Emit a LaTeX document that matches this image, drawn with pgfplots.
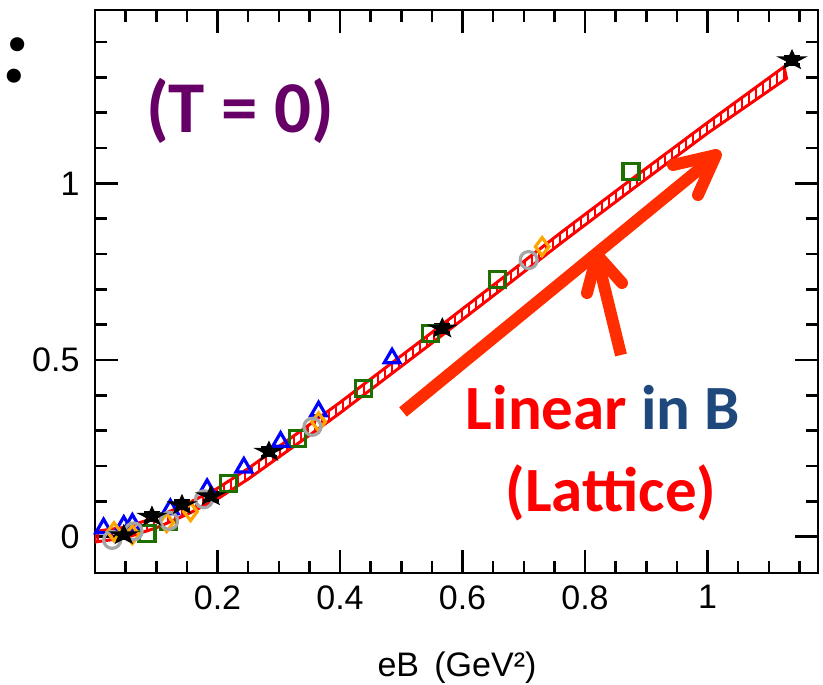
\documentclass[border=0pt]{standalone}
\usepackage{fontspec}
\setmainfont{Liberation Sans}
\newfontfamily\calibri{Carlito}
\usepackage{pgfplots}
\pgfplotsset{compat=1.18}
\usetikzlibrary{patterns.meta}
\definecolor{arrowred}{RGB}{255,45,0}
\definecolor{dgreen}{RGB}{30,110,0}
\definecolor{mblue}{RGB}{0,0,255}
\definecolor{morange}{RGB}{255,165,0}
\definecolor{mgray}{RGB}{165,165,165}
\definecolor{tpurple}{RGB}{102,0,102}
\definecolor{tblue}{RGB}{31,73,125}
\pgfdeclareplotmark{fstar}{%
  \pgfpathmoveto{\pgfpoint{0pt}{0.85\pgfplotmarksize}}%
  \pgfpathlineto{\pgfpoint{-0.27\pgfplotmarksize}{0.263\pgfplotmarksize}}%
  \pgfpathlineto{\pgfpoint{-1.141\pgfplotmarksize}{0.263\pgfplotmarksize}}%
  \pgfpathlineto{\pgfpoint{-0.436\pgfplotmarksize}{-0.1\pgfplotmarksize}}%
  \pgfpathlineto{\pgfpoint{-0.706\pgfplotmarksize}{-0.688\pgfplotmarksize}}%
  \pgfpathlineto{\pgfpoint{0pt}{-0.325\pgfplotmarksize}}%
  \pgfpathlineto{\pgfpoint{0.706\pgfplotmarksize}{-0.688\pgfplotmarksize}}%
  \pgfpathlineto{\pgfpoint{0.436\pgfplotmarksize}{-0.1\pgfplotmarksize}}%
  \pgfpathlineto{\pgfpoint{1.141\pgfplotmarksize}{0.263\pgfplotmarksize}}%
  \pgfpathlineto{\pgfpoint{0.27\pgfplotmarksize}{0.263\pgfplotmarksize}}%
  \pgfpathclose
  \pgfusepathqfillstroke}

\pgfplotstableread{
x      y
0.000  0.015
0.050  0.027
0.100  0.055
0.150  0.093
0.200  0.137
0.250  0.193
0.300  0.255
0.350  0.317
0.400  0.380
0.440  0.433
0.550  0.578
0.660  0.725
0.760  0.860
0.880  1.017
1.000  1.172
1.125  1.330
1.129  1.297
1.000  1.142
0.880  0.987
0.760  0.830
0.660  0.695
0.550  0.548
0.440  0.403
0.400  0.350
0.350  0.287
0.300  0.225
0.250  0.163
0.200  0.107
0.150  0.063
0.100  0.025
0.050  -0.003
0.000  -0.015
}\band

\pgfplotstableread{
x      y      e
0.047  0.005  0.012
0.093  0.057  0.012
0.142  0.090  0.012
0.189  0.115  0.012
0.284  0.241  0.012
0.567  0.590  0.012
1.138  1.349  0.012
}\stars

\pgfplotstableread{
x      y
0.085  0.010
0.120  0.042
0.218  0.151
0.330  0.279
0.438  0.420
0.548  0.576
0.657  0.727
0.875  1.033
}\squares

\pgfplotstableread{
x      y
0.014  0.024
0.047  0.031
0.061  0.037
0.123  0.078
0.183  0.135
0.243  0.196
0.303  0.269
0.365  0.355
0.485  0.505
}\triangles

\pgfplotstableread{
x      y
0.031  0.014
0.061  0.006
0.117  0.040
0.156  0.071
0.365  0.325
0.730  0.821
}\diamonds

\pgfplotstableread{
x      y
0.028  -0.009
0.063  0.015
0.121  0.045
0.178  0.106
0.355  0.311
0.708  0.783
}\circles

\begin{document}
\begin{tikzpicture}
\path[use as bounding box] (0pt,0pt) rectangle (823pt,685pt);
\begin{axis}[
  at={(95pt,112pt)}, anchor=south west,
  scale only axis, width=723pt, height=563pt,
  xmin=0, xmax=1.1804, ymin=-0.1027, ymax=1.4908,
  axis line style={line width=2.6pt},
  tick style={line width=2.5pt, black},
  tick align=inside,
  major tick length=23pt, minor tick length=12pt,
  xtick={0.2,0.4,0.6,0.8,1},
  xticklabels={0.2,0.4,0.6,0.8,1},
  minor xtick={0.05,0.1,0.15,0.25,0.3,0.35,0.45,0.5,0.55,0.65,0.7,0.75,0.85,0.9,0.95,1.05,1.1,1.15},
  ytick={0,0.5,1},
  yticklabels={0,0.5,1},
  minor ytick={0.1,0.2,0.3,0.4,0.6,0.7,0.8,0.9,1.1,1.2,1.3,1.4},
  every tick label/.append style={font=\fontsize{34}{40}\selectfont},
  xticklabel style={yshift=-9pt},
  yticklabel style={xshift=-12pt},
  clip=true,
]
\addplot[draw=red, line width=3pt,
  pattern={Lines[angle=90,distance=7pt,line width=2.5pt]}, pattern color=red]
  table[x=x,y=y] {\band} -- cycle;
\addplot[only marks, mark=square, mark size=8pt, dgreen, mark options={line width=3.2pt}] table[x=x,y=y] {\squares};
\addplot[only marks, mark=triangle, mark size=9pt, mblue, mark options={line width=3.2pt}] table[x=x,y=y] {\triangles};
\addplot[only marks, mark=diamond, mark size=9pt, morange, mark options={line width=3.2pt}] table[x=x,y=y] {\diamonds};
\addplot[only marks, mark=o, mark size=8.5pt, mgray, mark options={line width=3.2pt}] table[x=x,y=y] {\circles};
\addplot[only marks, mark=fstar, mark size=11pt, black, mark options={line width=1.5pt},
  error bars/.cd, y dir=both, y explicit,
  error bar style={line width=2.5pt}, error mark options={line width=2.5pt, mark size=8pt, rotate=90}]
  table[x=x,y=y,y error=e] {\stars};
\end{axis}
% annotations (picture coordinates, 1pt = 1px of the reference)
\draw[arrowred, line width=12pt, line cap=butt] (403pt,273pt) -- (713pt,527pt);
\draw[arrowred, line width=12pt, line cap=round, line join=round] (673pt,520pt) -- (716pt,530pt) -- (698pt,490pt);
\draw[arrowred, line width=12pt, line cap=butt] (621pt,330pt) -- (597.5pt,426pt);
\draw[arrowred, line width=12pt, line cap=round, line join=round] (587pt,392pt) -- (597pt,430pt) -- (622pt,402pt);
\node[anchor=base, text=tpurple, font=\calibri\bfseries\fontsize{73}{80}\selectfont, inner sep=0pt] at (240pt,552pt) {(T = 0)};
\node[anchor=base, font=\calibri\bfseries\fontsize{63}{70}\selectfont, inner sep=0pt] at (603pt,255pt) {\textcolor{red}{Linear} \textcolor{tblue}{in B}};
\node[anchor=base, text=red, font=\calibri\bfseries\fontsize{63}{70}\selectfont, inner sep=0pt] at (611pt,173pt) {(Lattice)};
\node[anchor=base, font=\calibri\bfseries\itshape\fontsize{95}{100}\selectfont, inner sep=0pt] at (16pt,602pt) {\textit{:}};
\node[anchor=base, font=\fontsize{34}{40}\selectfont, inner sep=0pt] at (457pt,8pt) {eB\hspace{0.45em}(GeV²)};
\end{tikzpicture}
\end{document}
